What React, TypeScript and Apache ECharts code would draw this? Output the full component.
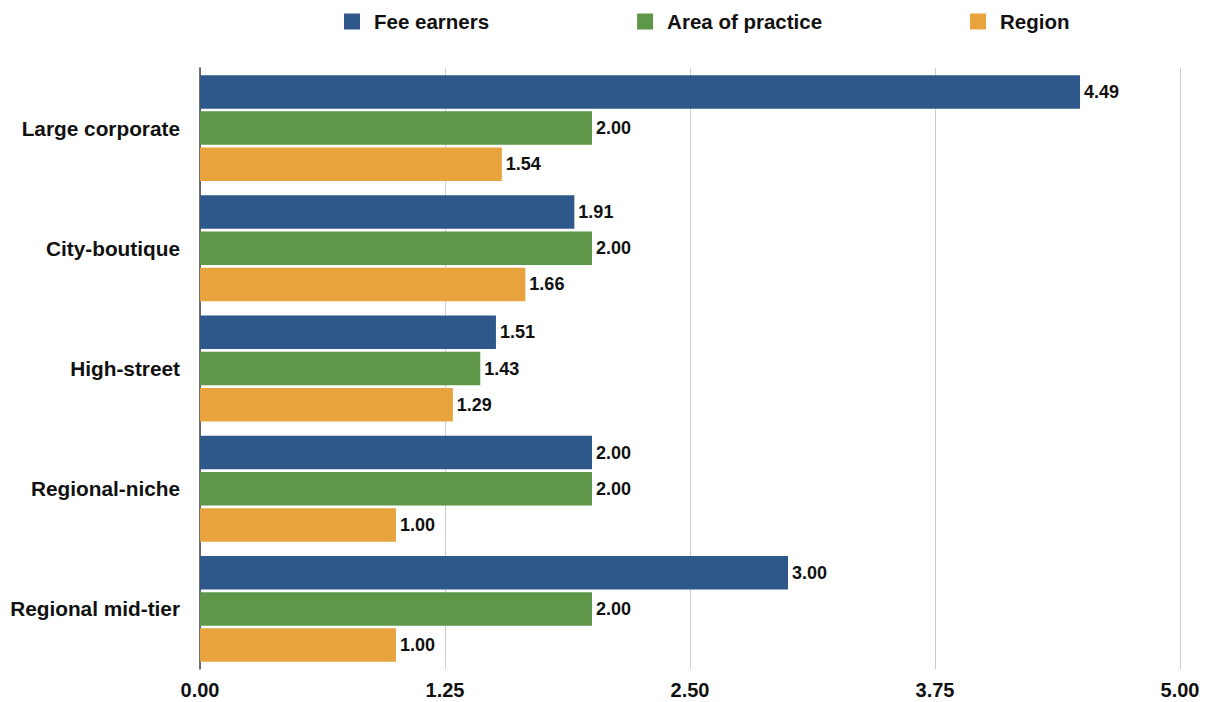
import React, { useEffect, useRef } from "react";
import * as echarts from "echarts";

const categories = ["Large corporate", "City-boutique", "High-street", "Regional-niche", "Regional mid-tier"];
const feeEarners = [4.49, 1.91, 1.51, 2.0, 3.0];
const areaOfPractice = [2.0, 2.0, 1.43, 2.0, 2.0];
const region = [1.54, 1.66, 1.29, 1.0, 1.0];
const xTicks = { min: 0, max: 5, interval: 1.25 };

const FONT = "'Liberation Sans', Arial, Helvetica, sans-serif";

export default function App() {
  const ref = useRef<HTMLDivElement>(null);
  useEffect(() => {
    if (!ref.current) return;
    const chart = echarts.init(ref.current, undefined, { renderer: "svg" });
    const label = {
      show: true,
      position: "right",
      distance: 4,
      fontFamily: FONT,
      fontWeight: "bold",
      fontSize: 18,
      color: "#111",
      formatter: (p: any) => Number(p.value).toFixed(2),
    };
    const mk = (name: string, data: number[], color: string) => ({
      name,
      type: "bar",
      data,
      barWidth: 33.5,
      barGap: "8%",
      itemStyle: { color },
      label,
    });
    chart.setOption({
      animation: false,
      textStyle: { fontFamily: FONT },
      legend: {
        top: 11,
        left: 344,
        padding: 0,
        icon: "rect",
        itemWidth: 16,
        itemHeight: 16,
        itemGap: 148,
        textStyle: {
          fontFamily: FONT,
          fontWeight: "bold",
          fontSize: 20.5,
          color: "#111",
          padding: [0, 0, 0, 9],
        },
        data: ["Fee earners", "Area of practice", "Region"],
      },
      grid: { left: 200, right: 30, top: 68, height: 601, containLabel: false },
      xAxis: {
        type: "value",
        min: xTicks.min,
        max: xTicks.max,
        interval: xTicks.interval,
        axisLine: { show: false },
        axisTick: { show: false },
        splitLine: { show: true, lineStyle: { color: "#cccccc", width: 1 } },
        axisLabel: {
          fontFamily: FONT,
          fontWeight: "bold",
          fontSize: 20,
          color: "#111",
          margin: 11,
          formatter: (v: number) => v.toFixed(2),
        },
      },
      yAxis: {
        type: "category",
        data: categories,
        inverse: true,
        axisLine: { show: true, lineStyle: { color: "#444", width: 1.5 } },
        axisTick: { show: false },
        axisLabel: {
          fontFamily: FONT,
          fontWeight: "bold",
          fontSize: 20.8,
          color: "#111",
          margin: 20,
        },
      },
      series: [
        mk("Fee earners", feeEarners, "#2E588A"),
        mk("Area of practice", areaOfPractice, "#5E9749"),
        mk("Region", region, "#E8A33C"),
      ],
    });
    return () => chart.dispose();
  }, []);
  return (
    <div
      ref={ref}
      style={{ position: "absolute", left: 0, top: 0, width: 1210, height: 702 }}
    />
  );
}
